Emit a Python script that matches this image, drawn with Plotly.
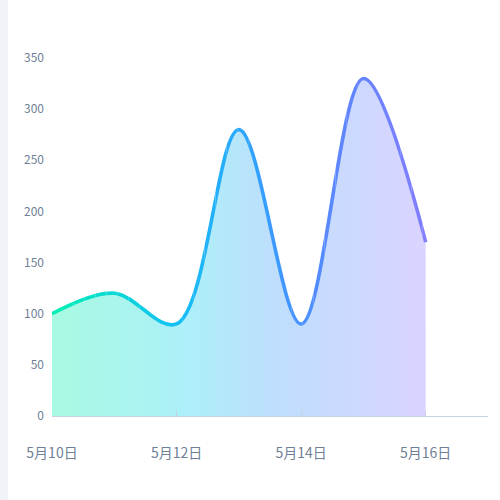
import plotly.graph_objects as go

# Data
dates = ['5月10日', '5月11日', '5月12日', '5月13日', '5月14日', '5月15日', '5月16日', '5月17日']
values = [100, 120, 90, 280, 90, 330, 170]
y_ticks = [0, 50, 100, 150, 200, 250, 300, 350]

# gradient stops for the line (position along the drawn line, rgb)
line_stops = [
    (0.00, (0, 240, 180)),
    (0.33, (20, 192, 245)),
    (0.55, (50, 160, 255)),
    (0.75, (90, 135, 255)),
    (1.00, (130, 126, 255)),
]


def mix(t):
    for (p0, c0), (p1, c1) in zip(line_stops, line_stops[1:]):
        if t <= p1:
            f = (t - p0) / (p1 - p0) if p1 > p0 else 0
            return 'rgb(%d,%d,%d)' % tuple(round(a + (b - a) * f) for a, b in zip(c0, c1))
    return 'rgb(%d,%d,%d)' % line_stops[-1][1]


n_cat = len(dates) - 1
x_idx = list(range(len(values)))
line_span = (len(values) - 1) / n_cat

fig = go.Figure()

# gradient area
fig.add_trace(go.Scatter(
    x=x_idx, y=values, mode='lines', line=dict(shape='spline', smoothing=1, width=0, color='rgba(0,0,0,0)'),
    fill='tozeroy',
    fillgradient=dict(type='horizontal', colorscale=[
        [0, 'rgb(168,250,226)'], [0.35, 'rgb(172,240,248)'],
        [0.6, 'rgb(190,222,252)'], [1, 'rgb(218,212,255)']]),
    hoverinfo='skip', showlegend=False,
))

# gradient line: same spline drawn in many clipped slices
N = 40
for k in range(N):
    ax = 'xaxis%d' % (k + 2)
    d0, d1 = k / N, (k + 1) / N
    fig.add_trace(go.Scatter(
        x=x_idx, y=values, mode='lines', xaxis='x%d' % (k + 2), yaxis='y',
        line=dict(shape='spline', smoothing=1, width=3.6, color=mix(min(1, (d0 + d1) / 2 / line_span))),
        hoverinfo='skip', showlegend=False,
    ))
    fig.update_layout(**{ax: dict(domain=[d0, d1], range=[d0 * n_cat, d1 * n_cat],
                                  visible=False, anchor='y', fixedrange=True)})

fig.update_layout(
    width=500, height=500,
    margin=dict(l=52, r=12, t=58, b=84),
    paper_bgcolor='white', plot_bgcolor='rgba(0,0,0,0)',
    font=dict(family='Noto Sans CJK SC, sans-serif', color='#6e7f96'),
    xaxis=dict(
        range=[0, n_cat], tickvals=list(range(0, n_cat + 1, 2)), ticktext=dates[::2],
        showgrid=False, zeroline=False, showline=True, linecolor='#c8d2de', linewidth=1,
        ticks='inside', ticklen=5, tickcolor='#c8d2de',
        tickfont=dict(size=14, color='#6e7f96'), ticklabelstandoff=24,
    ),
    yaxis=dict(
        range=[0, 350], tickvals=y_ticks, showgrid=False, zeroline=False, showline=False,
        tickfont=dict(size=12, color='#6e7f96'), ticklabelstandoff=7,
    ),
    shapes=[dict(type='rect', xref='paper', yref='paper', x0=-52 / 436, x1=-44 / 436,
                 y0=-84 / 358, y1=1 + 58 / 358, fillcolor='#f2f3f8', line_width=0, layer='below')],
)

fig.write_html('out.html', config={'displayModeBar': False},
               post_script="document.body.style.margin='0';")
